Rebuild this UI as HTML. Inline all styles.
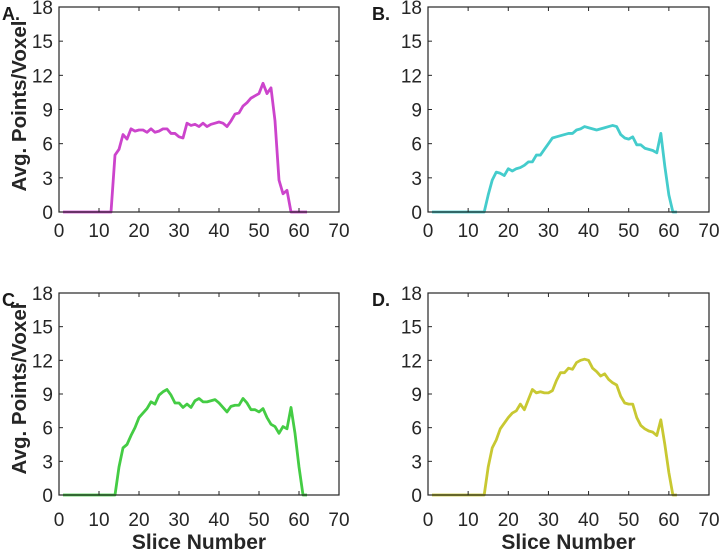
<!DOCTYPE html>
<html><head><meta charset="utf-8"><style>
html,body{margin:0;padding:0;background:#fff}
svg{display:block;font-family:"Liberation Sans",Arial,sans-serif}
</style></head><body>
<svg id="fig" width="720" height="554" viewBox="0 0 720 554"></svg>
<script>
const slices = [];
for (let i = 1; i <= 62; i++) slices.push(i);
const zeros13 = [0,0,0,0,0,0,0,0,0,0,0,0,0];
const seriesA = zeros13.concat([5.0,5.5,6.8,6.4,7.3,7.1,7.2,7.2,7.0,7.3,7.0,7.1,7.3,7.3,6.9,6.9,6.6,6.5,7.8,7.6,7.7,7.5,7.8,7.5,7.7,7.8,7.9,7.8,7.5,8.0,8.6,8.7,9.3,9.6,10.0,10.2,10.4,11.3,10.4,10.9,8.0,2.8,1.6,1.9,0,0,0,0,0]);
const seriesB = zeros13.concat([0,1.5,2.8,3.5,3.4,3.2,3.8,3.6,3.8,3.9,4.1,4.4,4.4,5.0,5.0,5.5,6.0,6.5,6.6,6.7,6.8,6.9,6.9,7.2,7.3,7.5,7.4,7.3,7.2,7.3,7.4,7.5,7.6,7.5,6.8,6.5,6.4,6.6,5.9,5.9,5.6,5.5,5.4,5.2,6.9,4.0,1.5,0,0]);
const seriesC = zeros13.concat([0,2.5,4.2,4.5,5.3,6.0,6.9,7.3,7.7,8.3,8.1,8.9,9.2,9.4,8.9,8.2,8.2,7.8,8.1,7.8,8.4,8.6,8.3,8.3,8.4,8.5,8.2,7.8,7.4,7.9,8.0,8.0,8.6,8.2,7.6,7.6,7.4,7.7,6.9,6.3,6.1,5.5,6.1,5.9,7.8,5.5,2.5,0,0]);
const seriesD = zeros13.concat([0,2.5,4.2,4.9,5.9,6.4,6.9,7.3,7.5,8.1,7.6,8.5,9.4,9.1,9.2,9.1,9.1,9.3,10.2,10.9,10.9,11.3,11.2,11.8,12.0,12.1,12.0,11.3,11.0,10.6,10.8,10.3,10.0,9.8,8.8,8.2,8.1,8.1,6.9,6.2,5.9,5.7,5.6,5.3,6.7,4.5,2.0,0,0]);
const xTicks = [0,10,20,30,40,50,60,70];
const yTicks = [0,3,6,9,12,15,18];

const NS = "http://www.w3.org/2000/svg";
const svg = document.getElementById('fig');
function mk(tag, attrs, parent, text){
  const e = document.createElementNS(NS, tag);
  for (const k in attrs) e.setAttribute(k, attrs[k]);
  if (text !== undefined) e.textContent = text;
  (parent||svg).appendChild(e);
  return e;
}
const panels = [
  {id:'a', letter:'A.', data:seriesA, color:'#cc44cc', L:59, R:339, T:7, B:212, ylab:true, xlab:false, cy:106},
  {id:'b', letter:'B.', data:seriesB, color:'#44cccc', L:428, R:709, T:7, B:212, ylab:false, xlab:false},
  {id:'c', letter:'C.', data:seriesC, color:'#44cc44', L:59, R:339, T:293, B:495, ylab:true, xlab:true, cy:389},
  {id:'d', letter:'D.', data:seriesD, color:'#c8c832', L:428, R:709, T:293, B:495, ylab:false, xlab:true}
];
panels.forEach(p => {
  const g = mk('g', {});
  
  
  const xs = v => p.L + (v/70)*(p.R-p.L);
  const ys = v => p.B - (v/18)*(p.B-p.T);
  let d = '';
  slices.forEach((s,i) => { d += (i? 'L':'M') + xs(s).toFixed(2) + ',' + ys(p.data[i]).toFixed(2); });
  const line = mk('path', {d:d, fill:'none', stroke:p.color, 'stroke-width':2.8, 'stroke-linejoin':'round'}, g);
  
  
  const fr = mk('rect', {x:p.L, y:p.T, width:p.R-p.L, height:p.B-p.T, fill:'none', stroke:'#262626', 'stroke-width':1.2}, g);
  
  
  xTicks.forEach(t => {
    const x = xs(t);
    mk('line', {x1:x, x2:x, y1:p.B, y2:p.B-4, stroke:'#262626', 'stroke-width':1}, g);
    mk('line', {x1:x, x2:x, y1:p.T, y2:p.T+4, stroke:'#262626', 'stroke-width':1}, g);
    const tl = mk('text', {x:x, y:p.xlab?526:237, 'text-anchor':'middle', 'font-size':19, fill:'#262626'}, g, String(t));
    
    
  });
  yTicks.forEach(t => {
    const y = ys(t);
    mk('line', {x1:p.L, x2:p.L+4, y1:y, y2:y, stroke:'#262626', 'stroke-width':1}, g);
    mk('line', {x1:p.R, x2:p.R-4, y1:y, y2:y, stroke:'#262626', 'stroke-width':1}, g);
    const tl = mk('text', {x:p.L-6, y:y+7, 'text-anchor':'end', 'font-size':19, fill:'#262626'}, g, String(t));
    
    
  });
  const lt = mk('text', {x:p.ylab?2:372, y:p.T+13, 'font-size':18, 'font-weight':'bold', fill:'#1a1a1a'}, g, p.letter);
  
  
  if (p.ylab) {
    const yl = mk('text', {x:0, y:0, transform:'translate(26,'+p.cy+') rotate(-90)', 'text-anchor':'middle', 'font-size':20.5, 'font-weight':'bold', fill:'#262626'}, g, 'Avg. Points/Voxel');
    
    
  }
  if (p.xlab) {
    const xl = mk('text', {x:(p.L+p.R)/2, y:549, 'text-anchor':'middle', 'font-size':21, 'font-weight':'bold', fill:'#262626'}, g, 'Slice Number');
    
    
  }
});
</script>
</body></html>
